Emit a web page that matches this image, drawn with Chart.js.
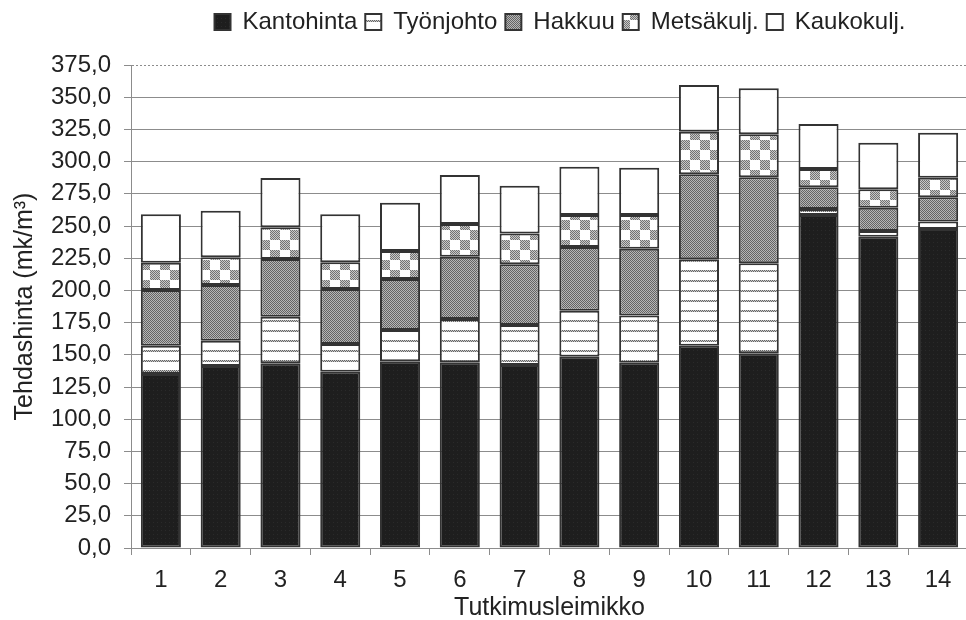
<!DOCTYPE html>
<html>
<head>
<meta charset="utf-8">
<title>Tehdashinta</title>
<script src="https://cdn.jsdelivr.net/npm/chart.js@4.4.1/dist/chart.umd.min.js"></script>
<style>
  body { margin: 0; background: #fff; overflow: hidden; }
  #wrap { width: 968px; height: 620px; }
</style>
</head>
<body>
<div id="wrap"><canvas id="costChart" width="968" height="620"></canvas></div>
<script>
'use strict';

// Data (mk/m3 per cost component, stacked)
let leimikot = ['1', '2', '3', '4', '5', '6', '7', '8', '9', '10', '11', '12', '13', '14'];
let kantohinta = [135.1, 141.3, 143.4, 136.9, 145.0, 144.2, 142.1, 148.5, 143.9, 157.1, 151.2, 258.5, 241.7, 247.7];
let tyonjohto = [22.0, 19.7, 36.2, 21.5, 24.3, 33.6, 31.0, 35.7, 36.7, 67.0, 69.9, 4.7, 4.4, 5.7];
let hakkuu = [43.2, 43.2, 44.8, 42.7, 39.6, 48.4, 47.2, 49.5, 51.8, 66.0, 66.7, 16.8, 18.1, 18.9];
let metsakulj = [21.2, 21.5, 24.6, 20.7, 21.7, 25.4, 23.8, 24.8, 26.1, 33.1, 33.4, 14.3, 14.3, 15.2];
let kaukokulj = [37.6, 36.2, 38.3, 37.3, 37.5, 38.0, 37.2, 37.5, 36.8, 36.3, 35.7, 34.9, 36.2, 34.9];

// Axis
let yMax = 375;
let yStep = 25;

// Fill patterns
function makePattern(w, h, draw){
  let c = document.createElement('canvas');
  c.width = w;
  c.height = h;
  let ctx = c.getContext('2d');
  draw(ctx);
  return ctx.createPattern(c, 'repeat');
}

function dots(ctx, x0, y0, w, h, dark, light){
  for (let y = y0; y < y0 + h; y++){
    for (let x = x0; x < x0 + w; x++){
      ctx.fillStyle = (x + y) % 2 ? light : dark;
      ctx.fillRect(x, y, 1, 1);
    }
  }
}

let solidDark = makePattern(4, 4, ctx => {
  ctx.fillStyle = '#1e1e1e';
  ctx.fillRect(0, 0, 4, 4);
  ctx.fillStyle = '#2a2a2a';
  ctx.fillRect(1, 2, 1, 1);
});

let stripes = makePattern(4, 10, ctx => {
  ctx.fillStyle = '#fff';
  ctx.fillRect(0, 0, 4, 10);
  dots(ctx, 0, 0, 4, 2, '#666', '#c8c8c8');
});

let fineHatch = makePattern(2, 2, ctx => {
  dots(ctx, 0, 0, 2, 2, '#646464', '#b6b6b6');
});

let checks = makePattern(20, 20, ctx => {
  ctx.fillStyle = '#fff';
  ctx.fillRect(0, 0, 20, 20);
  dots(ctx, 0, 0, 10, 10, '#727272', '#c8c8c8');
  dots(ctx, 10, 10, 10, 10, '#727272', '#c8c8c8');
});

// Legend spacing and placement
let legendGap = 21;
let legendShift = 76;

let legendPlacement = {
  id: 'legendPlacement',
  beforeInit(chart){
    let fit = chart.legend.fit;
    chart.legend.fit = function(){
      fit.call(this);
      this.height += legendGap;
    };
  },
  afterLayout(chart){
    chart.legend.left += legendShift;
    chart.legend.right += legendShift;
  }
};

function series(label, data, fill){
  return {
    label: label,
    data: data,
    backgroundColor: fill,
    borderColor: '#333',
    borderWidth: 2,
    borderSkipped: false,
    categoryPercentage: 0.67,
    barPercentage: 1
  };
}

let family = '"Liberation Sans", Arial, sans-serif';
let tickFont = { family: family, size: 24 };
let labelFont = { family: family, size: 25 };
let textColor = '#222';
let gridColor = '#8c8c8c';

let chartContext = document.getElementById('costChart');

new Chart(chartContext, { // eslint-disable-line
  type: 'bar',
  data: {
    labels: leimikot,
    datasets: [
      series('Kantohinta', kantohinta, solidDark),
      series('Työnjohto', tyonjohto, stripes),
      series('Hakkuu', hakkuu, fineHatch),
      series('Metsäkulj.', metsakulj, checks),
      series('Kaukokulj.', kaukokulj, '#fff')
    ]
  },
  options: {
    responsive: false,
    animation: false,
    devicePixelRatio: 1,
    layout: { padding: { top: 2 } },
    plugins: {
      legend: {
        position: 'top',
        align: 'center',
        labels: {
          font: tickFont,
          color: textColor,
          boxWidth: 16,
          boxHeight: 16,
          padding: 8
        }
      },
      tooltip: { enabled: false }
    },
    scales: {
      x: {
        stacked: true,
        offset: true,
        grid: {
          offset: true,
          drawOnChartArea: false,
          color: gridColor,
          tickLength: 7
        },
        border: { color: gridColor, width: 1 },
        ticks: { font: tickFont, color: textColor, padding: 11, maxRotation: 0 },
        title: {
          display: true,
          text: 'Tutkimusleimikko',
          font: labelFont,
          color: textColor,
          padding: { top: 0, bottom: -3.5 }
        },
        afterFit(scale){ scale.height = 72; }
      },
      y: {
        stacked: true,
        min: 0,
        max: yMax,
        ticks: {
          stepSize: yStep,
          font: tickFont,
          color: textColor,
          padding: 13,
          callback: value => value.toFixed(1).replace('.', ',')
        },
        grid: {
          color: gridColor,
          lineWidth: 1,
          tickLength: 7
        },
        border: {
          color: gridColor,
          width: 1,
          dash: ctx => (ctx.tick && ctx.tick.value === yMax ? [2, 2] : [])
        },
        title: {
          display: true,
          text: 'Tehdashinta (mk/m³)',
          font: labelFont,
          color: textColor,
          padding: { top: 10, bottom: 0 }
        },
        afterFit(scale){ scale.width = 131; }
      }
    }
  },
  plugins: [legendPlacement]
});
</script>
</body>
</html>
